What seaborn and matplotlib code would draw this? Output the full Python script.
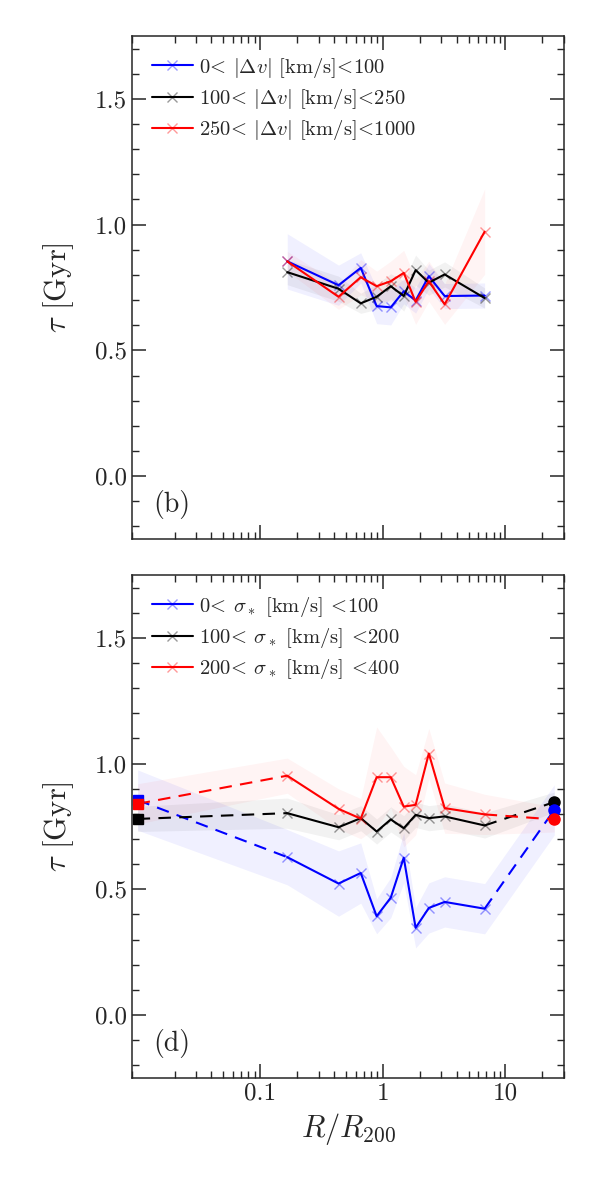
import numpy as np
import matplotlib
matplotlib.use("Agg")
import matplotlib.pyplot as plt
import seaborn as sns
from matplotlib.ticker import MultipleLocator, LogLocator, NullFormatter

# radial bins (R/R200)
r_bins = [0.166, 0.435, 0.66, 0.89, 1.16, 1.48, 1.85, 2.37, 3.19, 6.76]
r_inner = 0.01
r_outer = 25.0

# panel (b): split by |dv|
dv_labels = [r"0$\!<\!$ $|\Delta v|$ [km/s]$\!<\!$100",
             r"100$\!<\!$ $|\Delta v|$ [km/s]$\!<\!$250",
             r"250$\!<\!$ $|\Delta v|$ [km/s]$\!<\!$1000"]
tau_dv_low = [0.854, 0.759, 0.828, 0.676, 0.671, 0.735, 0.698, 0.795, 0.716, 0.718]
tau_dv_mid = [0.811, 0.745, 0.687, 0.713, 0.755, 0.716, 0.819, 0.769, 0.802, 0.708]
tau_dv_high = [0.854, 0.713, 0.791, 0.755, 0.775, 0.808, 0.693, 0.775, 0.683, 0.972]
err_dv_low = [0.11, 0.08, 0.06, 0.07, 0.07, 0.05, 0.05, 0.05, 0.05, 0.05]
err_dv_mid = [0.05, 0.05, 0.04, 0.05, 0.05, 0.06, 0.06, 0.05, 0.05, 0.04]
err_dv_high = [0.04, 0.05, 0.07, 0.06, 0.08, 0.09, 0.09, 0.08, 0.08, 0.17]

# panel (d): split by sigma_*
sig_labels = [r"0$\!<\!$ $\sigma_*$ [km/s] $\!<\!$100",
              r"100$\!<\!$ $\sigma_*$ [km/s] $\!<\!$200",
              r"200$\!<\!$ $\sigma_*$ [km/s] $\!<\!$400"]
tau_sig_low = [0.628, 0.523, 0.565, 0.393, 0.467, 0.626, 0.347, 0.426, 0.450, 0.423]
tau_sig_mid = [0.803, 0.747, 0.783, 0.730, 0.778, 0.743, 0.796, 0.783, 0.790, 0.754]
tau_sig_high = [0.952, 0.820, 0.781, 0.946, 0.946, 0.829, 0.836, 1.040, 0.823, 0.798]
err_sig_low = [0.11, 0.13, 0.12, 0.07, 0.08, 0.10, 0.08, 0.10, 0.10, 0.10]
err_sig_mid = [0.06, 0.05, 0.05, 0.05, 0.05, 0.05, 0.05, 0.05, 0.05, 0.05]
err_sig_high = [0.07, 0.08, 0.08, 0.20, 0.12, 0.16, 0.12, 0.10, 0.10, 0.08]
# central (square) and field (circle) values
tau_inner = [0.855, 0.780, 0.840]
err_inner = [0.12, 0.05, 0.08]
tau_outer = [0.816, 0.847, 0.778]
err_outer = [0.10, 0.04, 0.05]

colors = ["blue", "black", "red"]
marker_ec = [(0, 0, 1, 0.4), (0, 0, 0, 0.4), (1, 0, 0, 0.4)]
band_alpha = [0.06, 0.05, 0.045]

sns.set_style("ticks")
plt.rcParams["font.family"] = "serif"
plt.rcParams["font.serif"] = ["cmr10", "DejaVu Serif"]
plt.rcParams["mathtext.fontset"] = "cm"
plt.rcParams["axes.formatter.use_mathtext"] = True
plt.rcParams["axes.unicode_minus"] = False

fig, axes = plt.subplots(2, 1, figsize=(6, 12), dpi=100, sharex=True)
fig.subplots_adjust(left=0.22, right=0.94, top=0.97, bottom=0.1017, hspace=0.0716)

# top panel
ax = axes[0]
for i, (tau, err, lab) in enumerate(zip([tau_dv_low, tau_dv_mid, tau_dv_high],
                                        [err_dv_low, err_dv_mid, err_dv_high],
                                        dv_labels)):
    tau = np.array(tau)
    err = np.array(err)
    ax.fill_between(r_bins, tau - err, tau + err, color=colors[i], alpha=band_alpha[i], lw=0)
    sns.lineplot(x=r_bins, y=tau, ax=ax, color=colors[i], lw=1.5, marker="x", ms=7,
                 mew=1.0, mec=marker_ec[i], label=lab, errorbar=None, sort=False)
ax.text(0.05, 0.068, "(b)", transform=ax.transAxes, fontsize=20, va="center")

# bottom panel
ax = axes[1]
for i, (tau, err, lab) in enumerate(zip([tau_sig_low, tau_sig_mid, tau_sig_high],
                                        [err_sig_low, err_sig_mid, err_sig_high],
                                        sig_labels)):
    xs = [r_inner] + r_bins + [r_outer]
    ys = np.array([tau_inner[i]] + list(tau) + [tau_outer[i]])
    es = np.array([err_inner[i]] + list(err) + [err_outer[i]])
    ax.fill_between(xs, ys - es, ys + es, color=colors[i], alpha=band_alpha[i], lw=0)
    sns.lineplot(x=r_bins, y=tau, ax=ax, color=colors[i], lw=1.5, marker="x", ms=7,
                 mew=1.0, mec=marker_ec[i], label=lab, errorbar=None, sort=False)
    ax.plot([r_inner, r_bins[0]], [tau_inner[i], tau[0]], color=colors[i], lw=1.5, dashes=(6, 4))
    ax.plot([r_bins[-1], r_outer], [tau[-1], tau_outer[i]], color=colors[i], lw=1.5, dashes=(6, 4))
for i in [0, 2, 1]:
    ax.plot(r_inner, tau_inner[i], marker="s", ms=7.5, color=colors[i], ls="none")
for i in [1, 0, 2]:
    ax.plot(r_outer, tau_outer[i], marker="o", ms=8, color=colors[i], ls="none")
ax.text(0.05, 0.068, "(d)", transform=ax.transAxes, fontsize=20, va="center")

for ax in axes:
    ax.set_xscale("log")
    ax.set_xlim(0.009, 30)
    ax.set_ylim(-0.25, 1.75)
    ax.set_xticks([0.1, 1, 10])
    ax.set_xticklabels(["0.1", "1", "10"])
    ax.xaxis.set_minor_locator(LogLocator(base=10, subs=np.arange(2, 10)))
    ax.xaxis.set_minor_formatter(NullFormatter())
    ax.set_yticks([0.0, 0.5, 1.0, 1.5])
    ax.set_yticklabels(["0.0", "0.5", "1.0", "1.5"])
    ax.yaxis.set_minor_locator(MultipleLocator(0.1))
    ax.tick_params(which="both", direction="in", top=True, right=True, labelsize=18)
    ax.tick_params(which="major", length=10, width=1.1)
    ax.tick_params(which="minor", length=5, width=1.0)
    for s in ax.spines.values():
        s.set_linewidth(1.1)
    ax.set_ylabel(r"$\tau$ [Gyr]", fontsize=22, labelpad=14)
    ax.set_xlabel("")
    ax.legend(loc="upper left", frameon=False, fontsize=14.8, handlelength=2.0,
              handletextpad=0.3, labelspacing=0.35, borderaxespad=0.55)

axes[0].tick_params(labelbottom=False)
axes[1].set_xlabel(r"$R/R_{200}$", fontsize=22)

fig.savefig("out.png", dpi=100)
